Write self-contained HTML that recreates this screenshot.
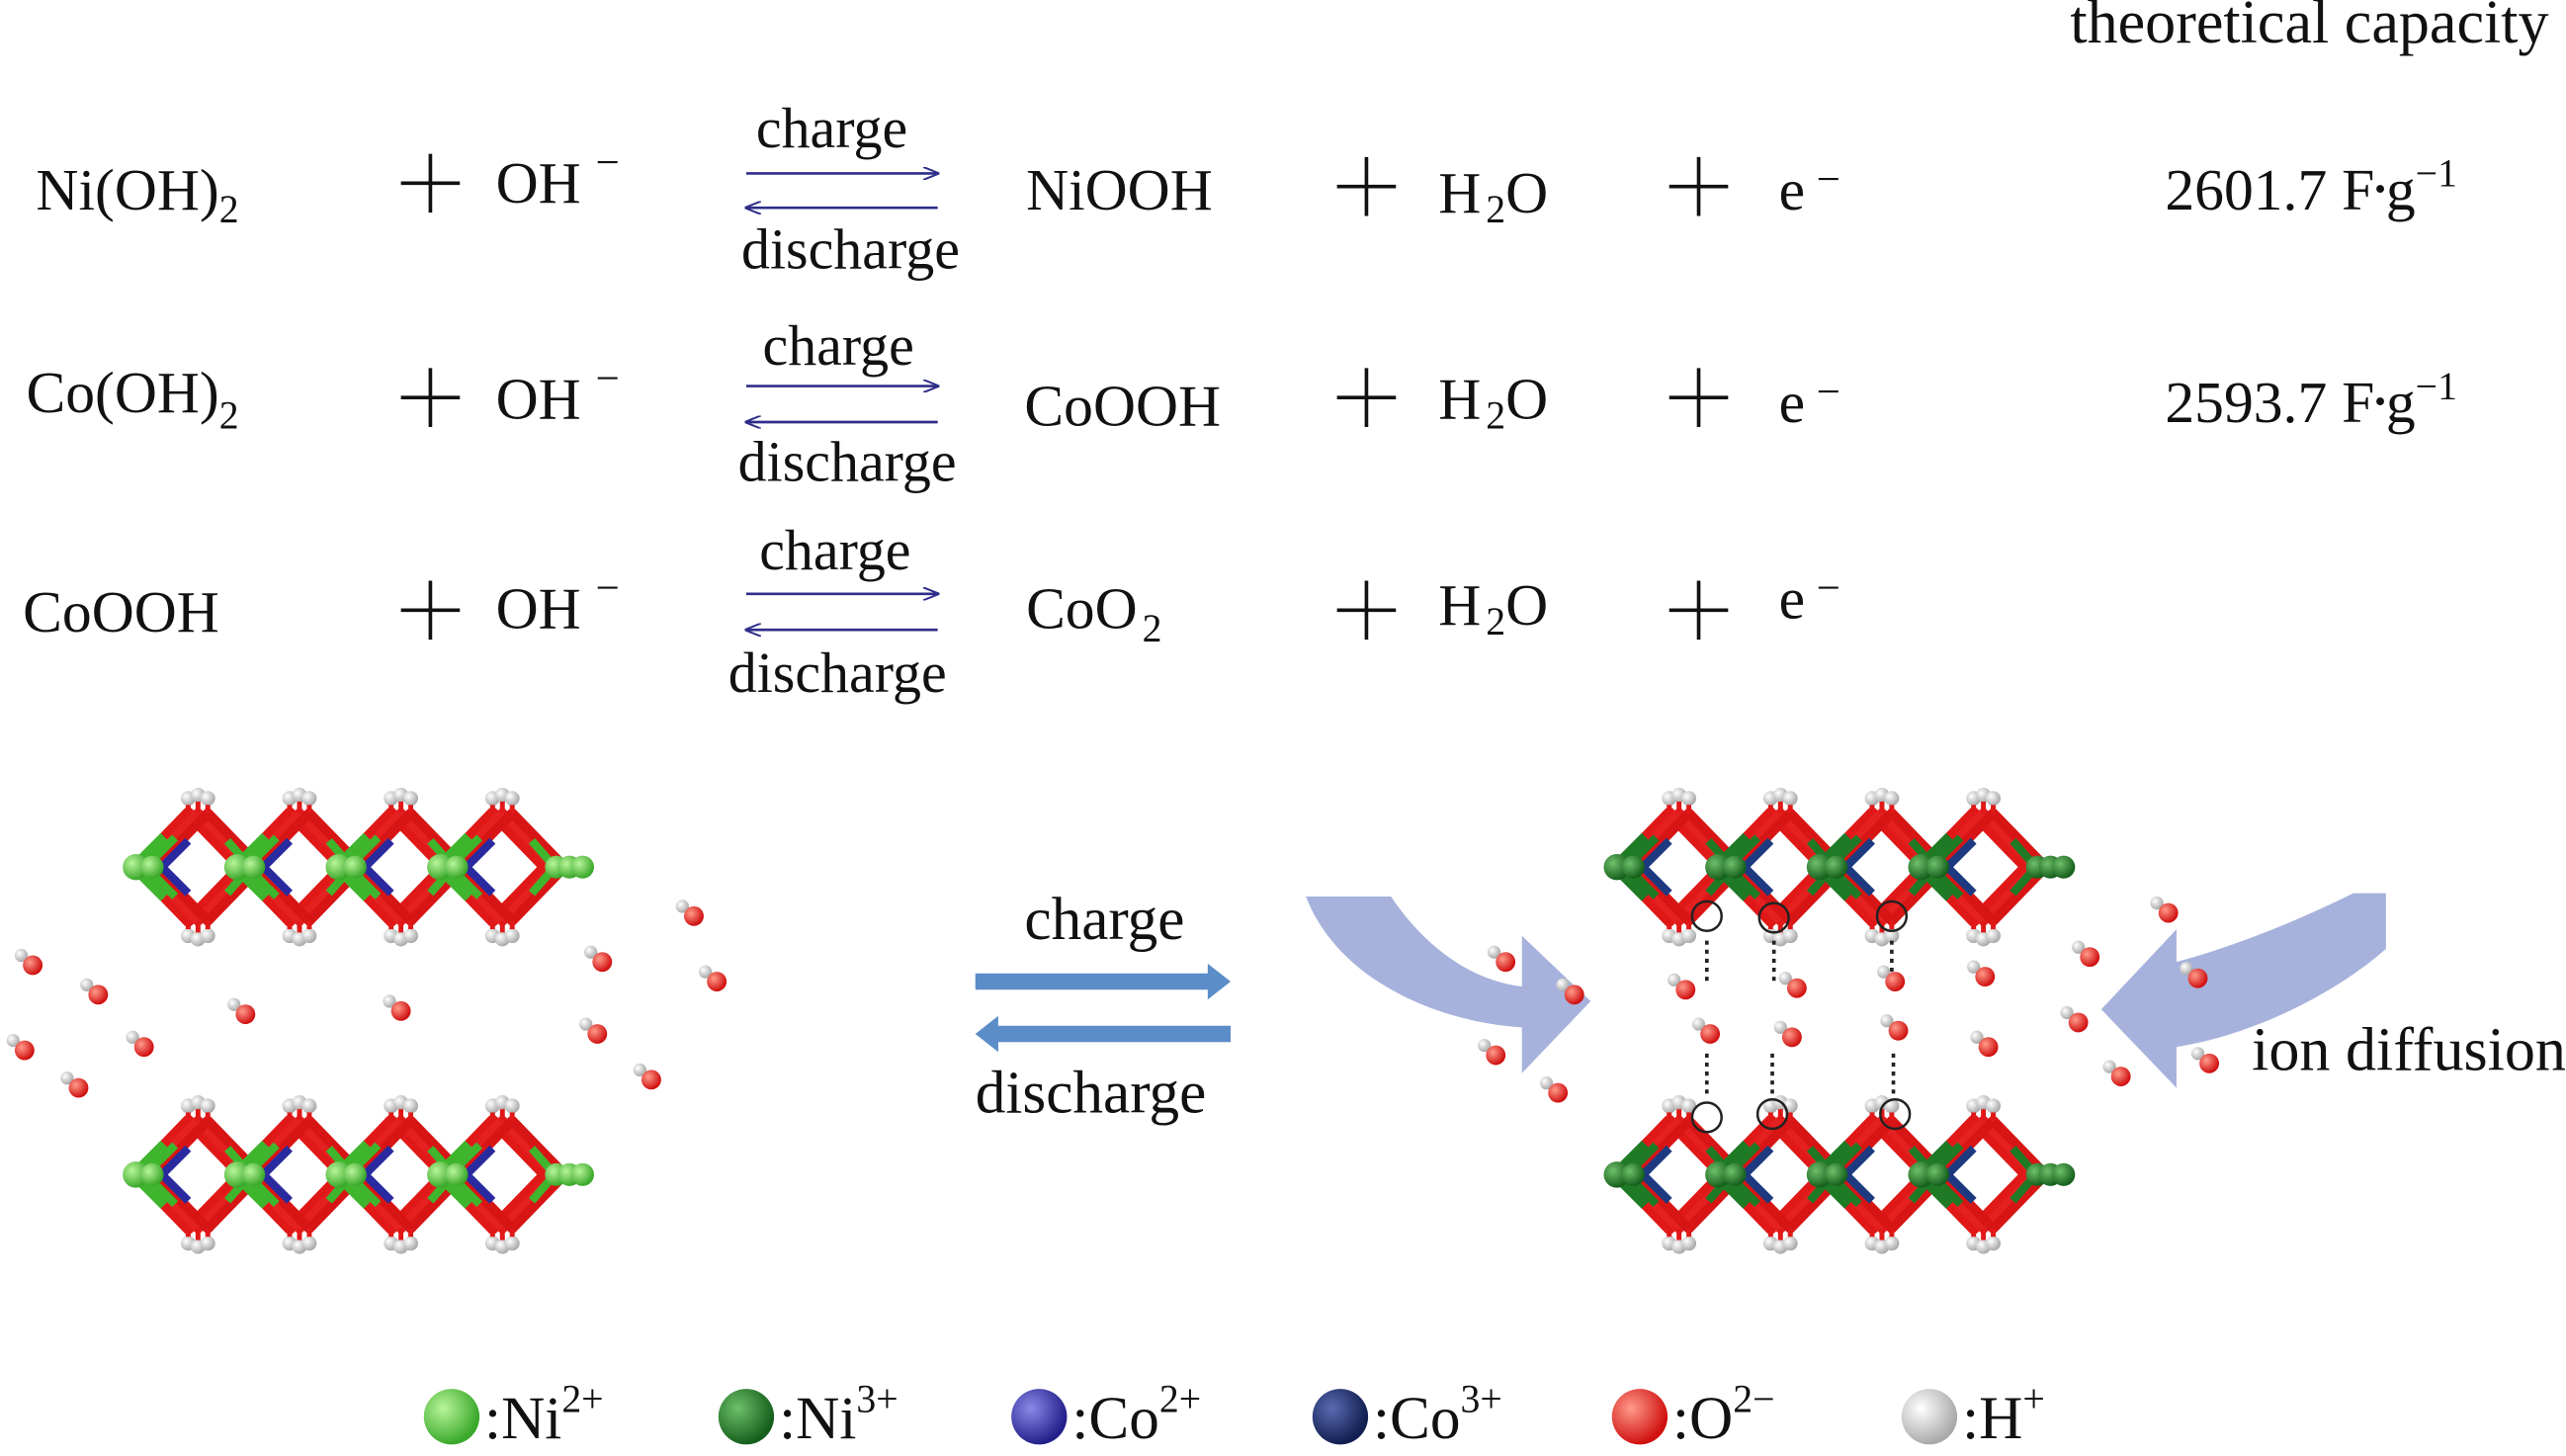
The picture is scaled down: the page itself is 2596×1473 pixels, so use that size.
<!DOCTYPE html>
<html><head><meta charset="utf-8"><style>
html,body{margin:0;padding:0;background:#fff}
svg{display:block}
text{font-family:"Liberation Serif",serif;fill:#111}
</style></head><body>
<svg width="2596" height="1473" viewBox="0 0 1568 890" preserveAspectRatio="none" xmlns="http://www.w3.org/2000/svg">
<defs>
<radialGradient id="gl" cx="35%" cy="35%" r="65%"><stop offset="0" stop-color="#b8f59a"/><stop offset="1" stop-color="#3aa82a"/></radialGradient>
<radialGradient id="gd" cx="35%" cy="35%" r="65%"><stop offset="0" stop-color="#6fbf6a"/><stop offset="1" stop-color="#15601c"/></radialGradient>
<radialGradient id="bl" cx="35%" cy="35%" r="65%"><stop offset="0" stop-color="#8a8ae8"/><stop offset="1" stop-color="#23208a"/></radialGradient>
<radialGradient id="bd" cx="35%" cy="35%" r="65%"><stop offset="0" stop-color="#5a6ab0"/><stop offset="1" stop-color="#101e50"/></radialGradient>
<radialGradient id="rd" cx="35%" cy="35%" r="65%"><stop offset="0" stop-color="#ff9a8a"/><stop offset="1" stop-color="#d01010"/></radialGradient>
<radialGradient id="wh" cx="35%" cy="35%" r="65%"><stop offset="0" stop-color="#fff"/><stop offset="1" stop-color="#aaa"/></radialGradient>
<g id="dl">
 <g fill="none" stroke-linejoin="round">
  <polygon points="-32,0 0,-33 32,0 0,33" stroke="#e01818" stroke-width="7"/>
  <polygon points="-26,0 6,-33 38,0 6,33" stroke="#e42020" stroke-width="6"/>
  <polygon points="-20,0 12,-33 44,0 12,33" stroke="#d81515" stroke-width="6"/>
  <polyline points="-14,-18 -32,0 -14,18" stroke="#3fb52d" stroke-width="8"/>
  <polyline points="-8,-18 -26,0 -8,18" stroke="#3fb52d" stroke-width="5"/>
  <polyline points="0,-16 -16,0 0,16" stroke="#2a2aa0" stroke-width="5"/>
  <polyline points="24,-16 38,0 24,16" stroke="#3fb52d" stroke-width="5"/>
 </g>
 <circle cx="-32" cy="0" r="8" fill="url(#gl)"/>
 <circle cx="-22" cy="0" r="7" fill="url(#gl)"/>
 <g fill="url(#wh)"><circle cx="0" cy="-42" r="4.5"/><circle cx="6" cy="-44" r="4.5"/><circle cx="12" cy="-42" r="4.5"/>
 <circle cx="0" cy="42" r="4.5"/><circle cx="6" cy="44" r="4.5"/><circle cx="12" cy="42" r="4.5"/></g>
 <g stroke="#e01818" stroke-width="3"><line x1="0" y1="-38" x2="0" y2="-33"/><line x1="6" y1="-40" x2="6" y2="-33"/><line x1="12" y1="-38" x2="12" y2="-33"/>
 <line x1="0" y1="38" x2="0" y2="33"/><line x1="6" y1="40" x2="6" y2="33"/><line x1="12" y1="38" x2="12" y2="33"/></g>
</g>
<g id="dd">
 <g fill="none" stroke-linejoin="round">
  <polygon points="-32,0 0,-33 32,0 0,33" stroke="#e01818" stroke-width="7"/>
  <polygon points="-26,0 6,-33 38,0 6,33" stroke="#e42020" stroke-width="6"/>
  <polygon points="-20,0 12,-33 44,0 12,33" stroke="#d81515" stroke-width="6"/>
  <polyline points="-14,-18 -32,0 -14,18" stroke="#1f7a26" stroke-width="8"/>
  <polyline points="-8,-18 -26,0 -8,18" stroke="#1f7a26" stroke-width="5"/>
  <polyline points="0,-16 -16,0 0,16" stroke="#1d3a80" stroke-width="5"/>
  <polyline points="24,-16 38,0 24,16" stroke="#1f7a26" stroke-width="5"/>
 </g>
 <circle cx="-32" cy="0" r="8" fill="url(#gd)"/>
 <circle cx="-22" cy="0" r="7" fill="url(#gd)"/>
 <g fill="url(#wh)"><circle cx="0" cy="-42" r="4.5"/><circle cx="6" cy="-44" r="4.5"/><circle cx="12" cy="-42" r="4.5"/>
 <circle cx="0" cy="42" r="4.5"/><circle cx="6" cy="44" r="4.5"/><circle cx="12" cy="42" r="4.5"/></g>
 <g stroke="#e01818" stroke-width="3"><line x1="0" y1="-38" x2="0" y2="-33"/><line x1="6" y1="-40" x2="6" y2="-33"/><line x1="12" y1="-38" x2="12" y2="-33"/>
 <line x1="0" y1="38" x2="0" y2="33"/><line x1="6" y1="40" x2="6" y2="33"/><line x1="12" y1="38" x2="12" y2="33"/></g>
</g>
<g id="layL"><use href="#dl" x="115"/><use href="#dl" x="177"/><use href="#dl" x="239"/><use href="#dl" x="301"/>
 <circle cx="340" cy="0" r="7" fill="url(#gl)"/><circle cx="348" cy="0" r="7" fill="url(#gl)"/><circle cx="356" cy="0" r="7" fill="url(#gl)"/></g>
<g id="layR"><use href="#dd" x="1020"/><use href="#dd" x="1082"/><use href="#dd" x="1144"/><use href="#dd" x="1206"/>
 <circle cx="1245" cy="0" r="7" fill="url(#gd)"/><circle cx="1253" cy="0" r="7" fill="url(#gd)"/><circle cx="1261" cy="0" r="7" fill="url(#gd)"/></g>
<g id="w"><line x1="-7" y1="-6" x2="0" y2="0" stroke="#ccc" stroke-width="3"/><circle cx="-7" cy="-6" r="4" fill="url(#wh)"/><circle cx="0" cy="0" r="6" fill="url(#rd)"/></g>
<marker id="ah" markerWidth="10" markerHeight="8" refX="9" refY="4" orient="auto" markerUnits="userSpaceOnUse"><path d="M0,0 L10,4 L0,8" fill="none" stroke="#2e2e8a" stroke-width="1.2"/></marker>
</defs>

<text x="1265" y="26" font-size="37.5">theoretical capacity</text>

<g stroke="#111" stroke-width="2.2">
<path d="M245,112 h36 M263,94 v36"/><path d="M817,114 h36 M835,96 v36"/><path d="M1020,114 h36 M1038,96 v36"/>
<path d="M245,243 h36 M263,225 v36"/><path d="M817,243 h36 M835,225 v36"/><path d="M1020,243 h36 M1038,225 v36"/>
<path d="M245,373 h36 M263,355 v36"/><path d="M817,373 h36 M835,355 v36"/><path d="M1020,373 h36 M1038,355 v36"/>
</g>

<g font-size="36">
<text x="22" y="128">Ni(OH)<tspan font-size="24" dy="8">2</tspan></text>
<text x="303" y="124">OH</text><text x="364" y="108" font-size="26">−</text>
<text x="627" y="128">NiOOH</text>
<text x="879" y="130">H<tspan font-size="24" dx="3" dy="6">2</tspan><tspan dy="-6">O</tspan></text>
<text x="1087" y="128">e</text><text x="1110" y="118" font-size="26">−</text>
<text x="1323" y="128">2601.7 F<tspan font-size="20" dy="-6">•</tspan><tspan dy="6">g</tspan><tspan font-size="24" dy="-14">−1</tspan></text>

<text x="16" y="252">Co(OH)<tspan font-size="24" dy="10">2</tspan></text>
<text x="303" y="256">OH</text><text x="364" y="240" font-size="26">−</text>
<text x="626" y="260">CoOOH</text>
<text x="879" y="256">H<tspan font-size="24" dx="3" dy="6">2</tspan><tspan dy="-6">O</tspan></text>
<text x="1087" y="258">e</text><text x="1110" y="248" font-size="26">−</text>
<text x="1323" y="258">2593.7 F<tspan font-size="20" dy="-6">•</tspan><tspan dy="6">g</tspan><tspan font-size="24" dy="-14">−1</tspan></text>

<text x="14" y="386">CoOOH</text>
<text x="303" y="384">OH</text><text x="364" y="368" font-size="26">−</text>
<text x="627" y="384">CoO<tspan font-size="24" dx="3" dy="8">2</tspan></text>
<text x="879" y="382">H<tspan font-size="24" dx="3" dy="6">2</tspan><tspan dy="-6">O</tspan></text>
<text x="1087" y="378">e</text><text x="1110" y="368" font-size="26">−</text>
</g>

<g font-size="35">
<text x="462" y="90">charge</text><text x="453" y="164">discharge</text>
<text x="466" y="223">charge</text><text x="451" y="294">discharge</text>
<text x="464" y="348">charge</text><text x="445" y="423">discharge</text>
</g>
<g stroke="#2e2e8a" stroke-width="1.6" fill="none">
<line x1="456" y1="106" x2="573" y2="106" marker-end="url(#ah)"/><line x1="573" y1="127" x2="456" y2="127" marker-end="url(#ah)"/>
<line x1="456" y1="236" x2="573" y2="236" marker-end="url(#ah)"/><line x1="573" y1="258" x2="456" y2="258" marker-end="url(#ah)"/>
<line x1="456" y1="363" x2="573" y2="363" marker-end="url(#ah)"/><line x1="573" y1="385" x2="456" y2="385" marker-end="url(#ah)"/>
</g>

<text x="626" y="574" font-size="37">charge</text>
<text x="596" y="680" font-size="37">discharge</text>
<path d="M596,595 L738,595 L738,589 L752,600 L738,611 L738,605 L596,605 Z" fill="#5b8dc8"/>
<path d="M752,627 L610,627 L610,621 L596,632 L610,643 L610,637 L752,637 Z" fill="#5b8dc8"/>

<use href="#layL" y="530"/>
<use href="#layL" y="718"/>
<use href="#w" x="20" y="590"/><use href="#w" x="60" y="608"/><use href="#w" x="15" y="642"/><use href="#w" x="88" y="640"/>
<use href="#w" x="48" y="665"/><use href="#w" x="150" y="620"/><use href="#w" x="245" y="618"/><use href="#w" x="368" y="588"/>
<use href="#w" x="424" y="560"/><use href="#w" x="438" y="600"/><use href="#w" x="365" y="632"/><use href="#w" x="398" y="660"/>

<path d="M798,548 L850,548 C875,585 905,600 930,603 L930,572 L972,612 L930,656 L930,628 C880,625 818,600 798,548 Z" fill="#8a98d0" opacity="0.75"/>
<path d="M1458,546 L1438,546 C1400,565 1360,580 1330,588 L1330,568 L1284,617 L1330,665 L1330,640 C1380,632 1430,605 1458,580 Z" fill="#8a98d0" opacity="0.75"/>
<text x="1376" y="654" font-size="37.5">ion diffusion</text>

<use href="#layR" y="530"/>
<use href="#layR" y="718"/>
<g fill="none" stroke="#222" stroke-width="1.5">
<circle cx="1043" cy="560" r="9"/><circle cx="1084" cy="561" r="9"/><circle cx="1156" cy="560" r="9"/>
<circle cx="1043" cy="683" r="9"/><circle cx="1083" cy="681" r="9"/><circle cx="1158" cy="681" r="9"/>
</g>
<g stroke="#222" stroke-width="2.2" stroke-dasharray="2.5,3">
<line x1="1043" y1="575" x2="1043" y2="600"/><line x1="1084" y1="575" x2="1084" y2="600"/><line x1="1156" y1="575" x2="1156" y2="600"/>
<line x1="1043" y1="644" x2="1043" y2="670"/><line x1="1083" y1="644" x2="1083" y2="670"/><line x1="1157" y1="644" x2="1157" y2="670"/>
</g>
<use href="#w" x="1030" y="605"/><use href="#w" x="1098" y="604"/><use href="#w" x="1158" y="600"/><use href="#w" x="1213" y="597"/>
<use href="#w" x="1045" y="632"/><use href="#w" x="1095" y="634"/><use href="#w" x="1160" y="630"/><use href="#w" x="1215" y="640"/>
<use href="#w" x="920" y="588"/><use href="#w" x="962" y="608"/><use href="#w" x="914" y="645"/><use href="#w" x="952" y="668"/>
<use href="#w" x="1325" y="558"/><use href="#w" x="1277" y="585"/><use href="#w" x="1343" y="598"/><use href="#w" x="1270" y="625"/>
<use href="#w" x="1350" y="650"/><use href="#w" x="1296" y="658"/>

<g font-size="37">
<circle cx="276" cy="866" r="17" fill="url(#gl)"/><text x="296" y="879">:Ni<tspan font-size="24" dy="-16">2+</tspan></text>
<circle cx="456" cy="866" r="17" fill="url(#gd)"/><text x="476" y="879">:Ni<tspan font-size="24" dy="-16">3+</tspan></text>
<circle cx="635" cy="866" r="17" fill="url(#bl)"/><text x="655" y="879">:Co<tspan font-size="24" dy="-16">2+</tspan></text>
<circle cx="819" cy="866" r="17" fill="url(#bd)"/><text x="839" y="879">:Co<tspan font-size="24" dy="-16">3+</tspan></text>
<circle cx="1002" cy="866" r="17" fill="url(#rd)"/><text x="1022" y="879">:O<tspan font-size="24" dy="-16">2−</tspan></text>
<circle cx="1179" cy="866" r="17" fill="url(#wh)"/><text x="1199" y="879">:H<tspan font-size="24" dy="-16">+</tspan></text>
</g>
</svg>
</body></html>
